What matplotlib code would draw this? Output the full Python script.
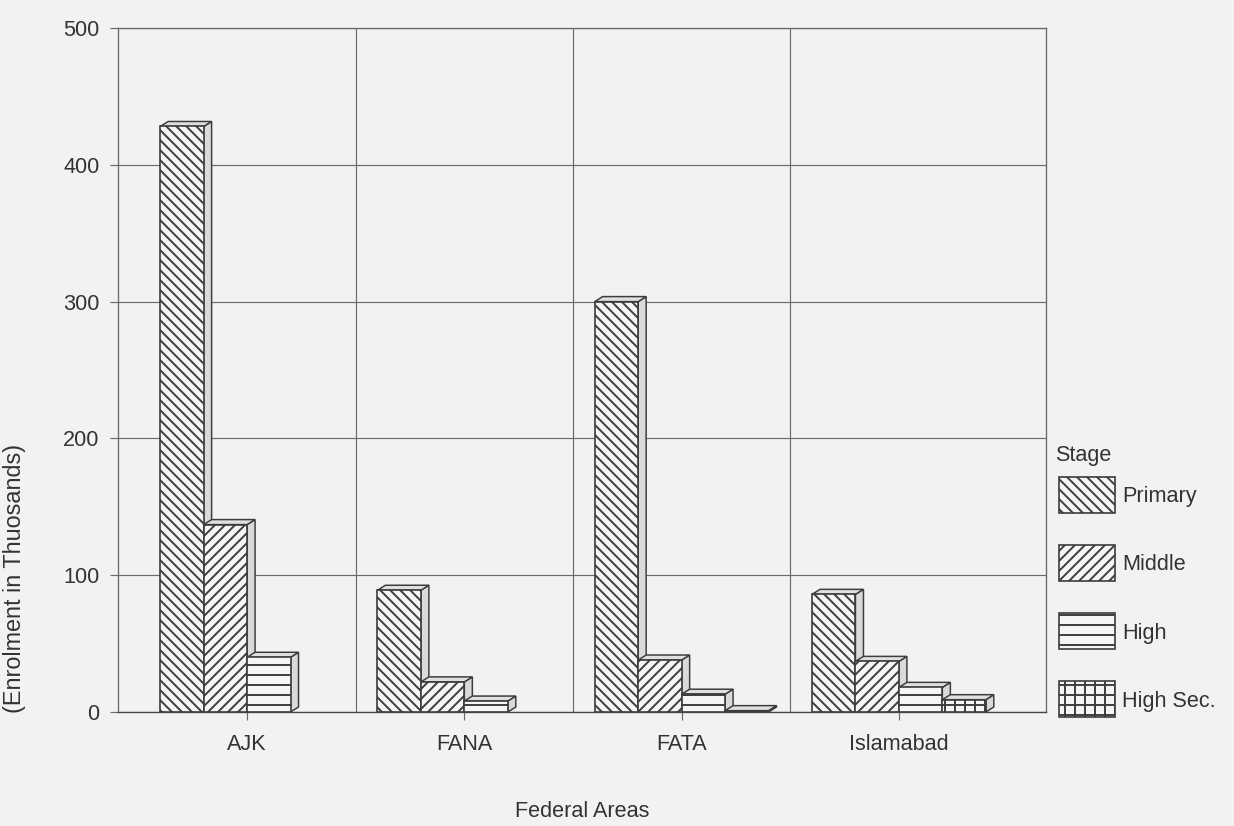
import numpy as np
import matplotlib
matplotlib.use("Agg")
import matplotlib.pyplot as plt
from matplotlib.patches import Polygon, Rectangle

plt.rcParams["font.family"] = ["Liberation Sans", "DejaVu Sans"]
plt.rcParams["hatch.linewidth"] = 1.15

# data (enrolment in thousands)
areas = ["AJK", "FANA", "FATA", "Islamabad"]
stages = ["Primary", "Middle", "High", "High Sec."]
primary = [428, 89, 300, 86]
middle = [137, 22, 38, 37]
high = [40, 8, 13, 18]
high_sec = [0, 0, 1, 9]
yticks = [0, 100, 200, 300, 400, 500]

series = [primary, middle, high, high_sec]
hatches = ["\\\\\\\\", "////", "--", "++"]

W, H, DPI = 1234, 826, 120
bg = "#f2f2f0"
ink = "#333333"
edge = "#3c3c3c"
grid_c = "#6a6a6a"

fig = plt.figure(figsize=(W / DPI, H / DPI), dpi=DPI, facecolor=bg)
ax = fig.add_axes([118 / W, 1 - 712 / H, (1046 - 118) / W, (712 - 28) / H])
ax.set_facecolor(bg)

ax.set_xlim(-0.594, 3.677)
ax.set_ylim(0, 500)

# 3d depth, about 8 px right and 5 px up
dx = 8 / 217.3
dy = 5 * 500 / 684

x = np.arange(len(areas))
width = 0.2

for i, (vals, hatch) in enumerate(zip(series, hatches)):
    z = 3 + i
    bars = ax.bar(x - 0.4 + i * width, vals, width, align="edge",
                  color="#f5f5f3", edgecolor=edge, hatch=hatch, lw=1.0, zorder=z + 0.5)
    for b in bars:
        x0, w, h = b.get_x(), b.get_width(), b.get_height()
        if h <= 0:
            b.set_visible(False)
            continue
        side = [(x0 + w, 0), (x0 + w + dx, dy), (x0 + w + dx, h + dy), (x0 + w, h)]
        top = [(x0, h), (x0 + dx, h + dy), (x0 + w + dx, h + dy), (x0 + w, h)]
        ax.add_patch(Polygon(side, closed=True, fc="#dadad8", ec=edge, lw=0.9, zorder=z))
        ax.add_patch(Polygon(top, closed=True, fc="#e0e0de", ec=edge, lw=0.9, zorder=z))

# grid
ax.set_yticks(yticks)
ax.set_xticks(x)
ax.set_xticklabels(areas)
ax.set_xticks([0.5, 1.5, 2.5], minor=True)
ax.grid(axis="y", which="major", color=grid_c, lw=0.7, zorder=1)
ax.grid(axis="x", which="minor", color=grid_c, lw=0.7, zorder=1)
ax.tick_params(axis="x", which="minor", length=0)
ax.tick_params(axis="both", which="major", colors=grid_c, labelcolor=ink,
               labelsize=13, length=5, width=0.7)
ax.tick_params(axis="x", which="major", pad=8)
ax.tick_params(axis="y", which="major", pad=6)
for s in ax.spines.values():
    s.set_color(grid_c)
    s.set_linewidth(0.8)
ax.spines["bottom"].set_color("#444444")

ax.set_xlabel("Federal Areas", fontsize=13, color=ink, labelpad=28)
fig.text(15 / W, 1 - 578 / H, "(Enrolment in Thuosands)", rotation=90,
         ha="center", va="center", fontsize=14, color=ink)

# legend drawn by hand
fig.text(1055 / W, 1 - 455 / H, "Stage", ha="left", va="center", fontsize=13, color=ink)
for i, (lab, hatch) in enumerate(zip(stages, hatches)):
    top_px = 477 + i * 68
    r = Rectangle((1059 / W, 1 - (top_px + 36) / H), 56 / W, 36 / H,
                  transform=fig.transFigure, fc="#f5f5f3", ec=edge, lw=1.0, hatch=hatch)
    fig.add_artist(r)
    fig.text(1122 / W, 1 - (top_px + 20) / H, lab, ha="left", va="center",
             fontsize=13, color=ink)

fig.savefig("out.png", dpi=DPI, facecolor=bg)
